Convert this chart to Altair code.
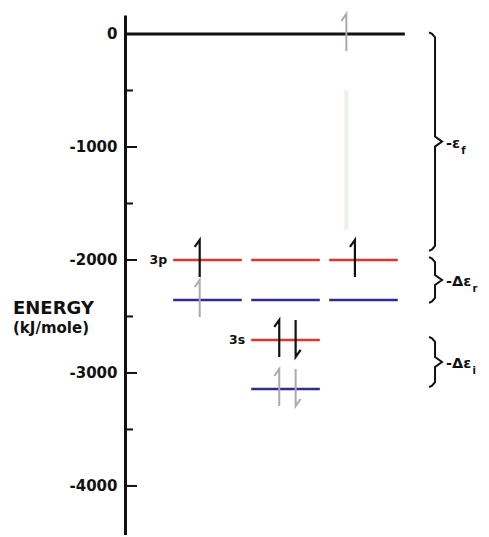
import altair as alt
import pandas as pd

# ---------------- data ----------------
tick_major = [0, -1000, -2000, -3000, -4000]
tick_minor = [-500, -1500, -2500, -3500]

vacuum_energy = 0
vacuum_span = [-0.058, 3.53]

p_slots = [1, 2, 3]
s_slots = [2]
p_final_energy = -2000
p_initial_energy = -2354
s_final_energy = -2708
s_initial_energy = -3142

arrow_slot = [0.90, 2.89, 1.92, 2.13, 0.90, 1.92, 2.13, 2.78]
arrow_energy = [-2000, -2000, -2708, -2708, -2354, -3142, -3142, 0]
arrow_spin = ["up", "up", "up", "down", "up", "up", "down", "up"]
arrow_kind = ["electron", "electron", "electron", "electron", "ghost", "ghost", "ghost", "ghost"]

brace_top = [15, -1975, -2680]
brace_bottom = [-1920, -2380, -3125]
brace_label = ["-\u03b5", "-\u0394\u03b5", "-\u0394\u03b5"]
brace_sub = ["f", "r", "i"]

trail_slot = 2.78
trail_energy = [-496, -1735]

# ---------------- geometry helpers ----------------
PX_X = 1 / 78.0          # slot units per pixel
PX_Y = 1000 / 113.0      # kJ/mole per pixel
HALF = 0.44              # half-width of an orbital segment (slot units)
BRACE_X = 3.917
LABEL_FS = 14.5
CHAR_W = {"-": 0.415, "\u0394": 0.774, "\u03b5": 0.60}

x_scale = alt.Scale(domain=[-0.0577, 4.5064], nice=False, zero=False)
y_scale = alt.Scale(domain=[-4434, 168], nice=False, zero=False)
y_axis = alt.Axis(values=tick_major, labelExpr="datum.value + ''",
                  labelFont="DejaVu Sans", labelFontWeight="bold",
                  labelFontSize=15, labelColor="#111111", labelPadding=8,
                  tickSize=0, domainColor="#111111", domainWidth=3,
                  grid=False, title=None)

def X(f):
    return alt.X(f, type="quantitative", scale=x_scale, axis=None)

def Y(f):
    return alt.Y(f, type="quantitative", scale=y_scale, axis=y_axis)

# level segments
rows = [{"x": vacuum_span[0], "x2": vacuum_span[1], "e": vacuum_energy, "state": "vacuum"}]
for s in p_slots:
    rows.append({"x": s - HALF, "x2": s + HALF, "e": p_final_energy, "state": "final"})
    rows.append({"x": s - HALF, "x2": s + HALF, "e": p_initial_energy, "state": "initial"})
for s in s_slots:
    rows.append({"x": s - HALF, "x2": s + HALF, "e": s_final_energy, "state": "final"})
    rows.append({"x": s - HALF, "x2": s + HALF, "e": s_initial_energy, "state": "initial"})
levels = pd.DataFrame(rows)

# spin arrows (half-arrow harpoons)
arows = []
for k, (xs, e, spin, kind) in enumerate(zip(arrow_slot, arrow_energy, arrow_spin, arrow_kind)):
    top = e + 20 * PX_Y
    bot = e - 17 * PX_Y
    if spin == "up":
        pts = [(xs, bot), (xs, top), (xs - 5 * PX_X, top - 7 * PX_Y)]
    else:
        pts = [(xs, top), (xs, bot), (xs + 5 * PX_X, bot + 7 * PX_Y)]
    for i, (px, py) in enumerate(pts):
        arows.append({"id": k, "i": i, "x": px, "e": py, "kind": kind})
arrows = pd.DataFrame(arows)

# braces
brows = []
lrows = []
for k, (t, b, lab, sub) in enumerate(zip(brace_top, brace_bottom, brace_label, brace_sub)):
    mid = (t + b) / 2
    shape = [(-6, t), (-3, t - 1.5 * PX_Y), (0, t - 5 * PX_Y), (0, mid + 5 * PX_Y), (7, mid),
             (0, mid - 5 * PX_Y), (0, b + 5 * PX_Y), (-3, b + 1.5 * PX_Y), (-6, b)]
    for i, (dx, ey) in enumerate(shape):
        brows.append({"id": k, "i": i, "x": BRACE_X + dx * PX_X, "e": ey})
    lx = BRACE_X + 11 * PX_X
    wpx = sum(CHAR_W.get(c, 0.6) for c in lab) * LABEL_FS
    lrows.append({"x": lx, "e": mid, "label": lab, "xs": lx + (wpx + 0.5) * PX_X, "sub": sub})
braces = pd.DataFrame(brows)
blabels = pd.DataFrame(lrows)

ticks_major_df = pd.DataFrame({"e": tick_major})
ticks_minor_df = pd.DataFrame({"e": tick_minor})

orb_labels = pd.DataFrame({
    "x": [p_slots[0] - HALF - 6 * PX_X, s_slots[0] - HALF - 6 * PX_X],
    "e": [p_final_energy, s_final_energy],
    "label": ["3p", "3s"],
})

trail = pd.DataFrame({"x": [trail_slot], "e": [trail_energy[0]], "e2": [trail_energy[1]]})

# ---------------- layers ----------------
trail_layer = alt.Chart(trail).mark_rule(color="#e9f3ea", strokeWidth=4).encode(
    x=X("x"), y=Y("e"), y2="e2")

def level_layer(state, color, width):
    return alt.Chart(levels).transform_filter(alt.datum.state == state).mark_rule(
        color=color, strokeWidth=width).encode(x=X("x"), x2="x2", y=Y("e"))

def arrow_layer(kind, color, width):
    return alt.Chart(arrows).transform_filter(alt.datum.kind == kind).mark_line(
        color=color, strokeWidth=width).encode(
        x=X("x"), y=Y("e"), detail="id:N", order=alt.Order("i:Q"))

tick_major_layer = alt.Chart(ticks_major_df).mark_rule(color="#111111", strokeWidth=2).encode(
    x=alt.value(0), x2=alt.value(12), y=Y("e"))
tick_minor_layer = alt.Chart(ticks_minor_df).mark_rule(color="#111111", strokeWidth=2).encode(
    x=alt.value(0), x2=alt.value(8), y=Y("e"))

brace_layer = alt.Chart(braces).mark_line(color="#111111", strokeWidth=2).encode(
    x=X("x"), y=Y("e"), detail="id:N", order=alt.Order("i:Q"))

brace_text = alt.Chart(blabels).mark_text(
    align="left", baseline="middle", dy=2, font="DejaVu Sans", fontWeight="bold",
    fontSize=LABEL_FS, color="#111111").encode(x=X("x"), y=Y("e"), text="label:N")
brace_subtext = alt.Chart(blabels).mark_text(
    align="left", baseline="middle", dy=9, font="DejaVu Sans", fontWeight="bold",
    fontSize=10, color="#111111").encode(x=X("xs"), y=Y("e"), text="sub:N")

orb_text = alt.Chart(orb_labels).mark_text(
    align="right", baseline="middle", font="DejaVu Sans", fontWeight="bold",
    fontSize=12.5, color="#111111").encode(x=X("x"), y=Y("e"), text="label:N")

energy_title = alt.Chart(pd.DataFrame({"t": ["ENERGY"]})).mark_text(
    align="left", baseline="middle", font="DejaVu Sans", fontWeight="bold",
    fontSize=18, color="#111111").encode(x=alt.value(-112), y=alt.value(294), text="t:N")
unit_title = alt.Chart(pd.DataFrame({"t": ["(kJ/mole)"]})).mark_text(
    align="left", baseline="middle", font="DejaVu Sans", fontWeight="bold",
    fontSize=15, color="#111111").encode(x=alt.value(-112), y=alt.value(313), text="t:N")

chart = alt.layer(
    trail_layer,
    level_layer("vacuum", "#111111", 3),
    level_layer("final", "#e5322b", 2.5),
    level_layer("initial", "#302c8c", 2.5),
    arrow_layer("ghost", "#b0a8a8", 2),
    arrow_layer("electron", "#111111", 2.2),
    tick_major_layer, tick_minor_layer,
    brace_layer, brace_text, brace_subtext, orb_text, energy_title, unit_title,
).properties(
    width=356, height=520,
    autosize="none",
    padding={"left": 117, "top": 7, "right": 0, "bottom": 0},
    background="white",
).configure_view(stroke=None)

chart.save("out.html", embed_options={"renderer": "svg", "actions": False})
